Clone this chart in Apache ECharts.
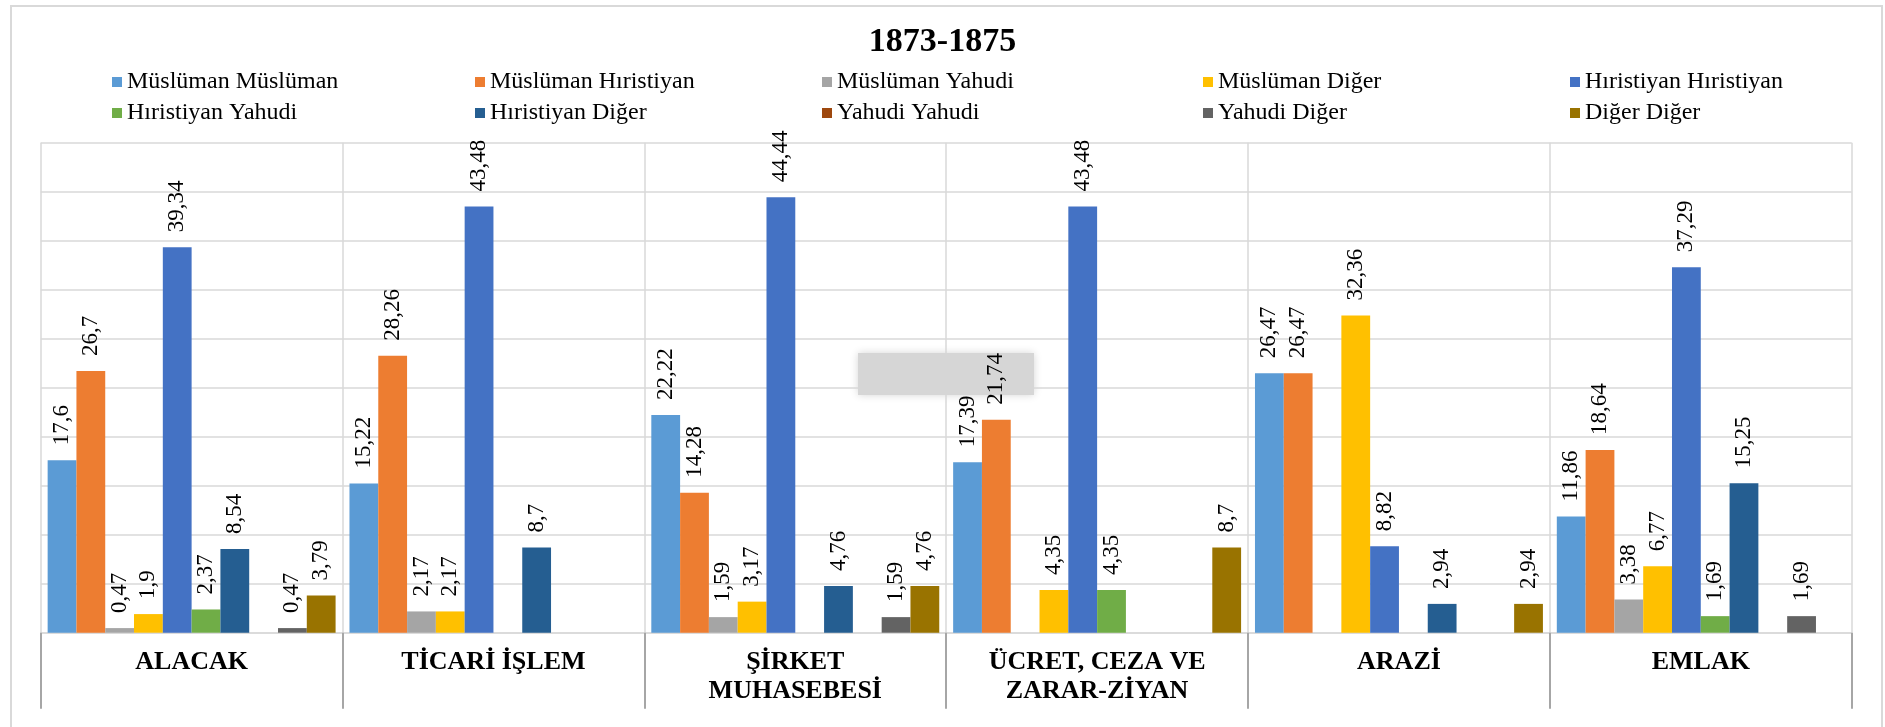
<!DOCTYPE html>
<html>
<head>
<meta charset="utf-8">
<title>1873-1875</title>
<script src="https://cdn.jsdelivr.net/npm/echarts@6/dist/echarts.min.js"></script>
<style>
  html, body { margin: 0; padding: 0; background: #fff; }
  #chart { width: 1885px; height: 727px; }
</style>
</head>
<body>
<div id="chart"></div>
<script>
// kategoriler (alt eksen)
var categories = ['ALACAK', 'TİCARİ İŞLEM', 'ŞİRKET\nMUHASEBESİ', 'ÜCRET, CEZA VE\nZARAR-ZİYAN', 'ARAZİ', 'EMLAK'];

// seri adları
var seriesNames = [
    'Müslüman Müslüman', 'Müslüman Hıristiyan', 'Müslüman Yahudi', 'Müslüman Diğer', 'Hıristiyan Hıristiyan',
    'Hıristiyan Yahudi', 'Hıristiyan Diğer', 'Yahudi Yahudi', 'Yahudi Diğer', 'Diğer Diğer'
];

// değerler (%), boş = veri yok
var musMus = [17.6, 15.22, 22.22, 17.39, 26.47, 11.86];
var musHir = [26.7, 28.26, 14.28, 21.74, 26.47, 18.64];
var musYah = [0.47, 2.17, 1.59, null, null, 3.38];
var musDig = [1.9, 2.17, 3.17, 4.35, 32.36, 6.77];
var hirHir = [39.34, 43.48, 44.44, 43.48, 8.82, 37.29];
var hirYah = [2.37, null, null, 4.35, null, 1.69];
var hirDig = [8.54, 8.7, 4.76, null, 2.94, 15.25];
var yahYah = [null, null, null, null, null, null];
var yahDig = [0.47, null, 1.59, null, null, 1.69];
var digDig = [3.79, null, 4.76, 8.7, 2.94, null];

var seriesData = [musMus, musHir, musYah, musDig, hirHir, hirYah, hirDig, yahYah, yahDig, digDig];

var colors = ['#5B9BD5', '#ED7D31', '#A5A5A5', '#FFC000', '#4472C4', '#70AD47', '#255E91', '#9E480E', '#636363', '#997300'];

var FONT = "'Liberation Serif', 'Times New Roman', serif";

// lejant sütunları (Excel'deki gibi hizalı)
var legendCols = [112, 475, 822, 1203, 1570];
var legendRows = [70, 101];

var chart = echarts.init(document.getElementById('chart'));

var legends = seriesNames.map(function (name, i) {
    return {
        data: [name],
        left: legendCols[i % 5],
        top: legendRows[Math.floor(i / 5)],
        padding: 0,
        icon: 'rect',
        itemWidth: 10,
        itemHeight: 10,
        selectedMode: false,
        textStyle: { fontFamily: FONT, fontSize: 24, color: '#000' }
    };
});

var series = seriesNames.map(function (name, i) {
    return {
        name: name,
        type: 'bar',
        data: seriesData[i],
        barGap: '0%',
        barCategoryGap: '4.6%',
        itemStyle: { color: colors[i] },
        label: {
            show: true,
            position: 'top',
            rotate: 90,
            align: 'left',
            verticalAlign: 'middle',
            distance: 15,
            fontFamily: FONT,
            fontSize: 23,
            color: '#000',
            formatter: function (p) {
                return String(p.value).replace('.', ',');
            }
        }
    };
});

var option = {
    backgroundColor: '#fff',
    animation: false,
    color: colors,
    title: {
        text: '1873-1875',
        left: 'center',
        top: 25,
        padding: 0,
        textStyle: { fontFamily: FONT, fontSize: 34, fontWeight: 'bold', color: '#000' }
    },
    legend: legends,
    grid: { left: 40.7, right: 33.3, top: 142.7, bottom: 94.3 },
    xAxis: {
        type: 'category',
        data: categories,
        boundaryGap: true,
        axisLine: { show: true, lineStyle: { color: '#d9d9d9', width: 1.5 } },
        axisTick: { show: true, interval: 0, length: 76, lineStyle: { color: '#a6a6a6', width: 2 } },
        splitLine: { show: true, interval: 0, lineStyle: { color: '#d9d9d9', width: 1.5 } },
        axisLabel: {
            interval: 0,
            margin: 15,
            fontFamily: FONT,
            fontSize: 26,
            fontWeight: 'bold',
            lineHeight: 29,
            color: '#000'
        }
    },
    yAxis: {
        type: 'value',
        min: 0,
        max: 50,
        interval: 5,
        axisLine: { show: false },
        axisTick: { show: false },
        axisLabel: { show: false },
        splitLine: { lineStyle: { color: '#d9d9d9', width: 1.5 } }
    },
    graphic: [
        {
            type: 'rect',
            silent: true,
            shape: { x: 11, y: 6, width: 1871, height: 740 },
            style: { fill: 'none', stroke: '#d9d9d9', lineWidth: 2 }
        },
        {
            // resimdeki gri leke (etiketlerin altında kalır)
            type: 'rect',
            silent: true,
            z: 1,
            shape: { x: 858, y: 353, width: 176, height: 42 },
            style: { fill: '#d6d6d6', shadowBlur: 8, shadowColor: '#d6d6d6' }
        }
    ],
    series: series
};

chart.setOption(option);
</script>
</body>
</html>
